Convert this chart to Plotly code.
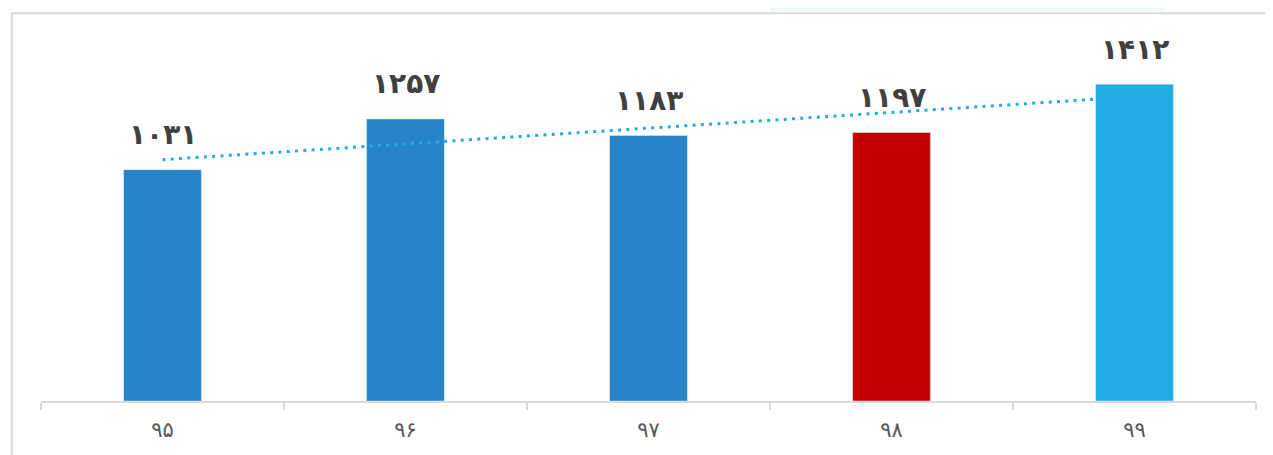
import numpy as np
import plotly.graph_objects as go

# ---- data ----
years = ["۹۵", "۹۶", "۹۷", "۹۸", "۹۹"]
values = [1031, 1257, 1183, 1197, 1412]
bar_colors = ["#2683C6", "#2683C6", "#2683C6", "#C00000", "#1EACE2"]

PERSIAN = str.maketrans("0123456789", "۰۱۲۳۴۵۶۷۸۹")
labels = [str(v).translate(PERSIAN) for v in values]

# linear trendline fitted to the data (Excel-style)
idx = np.arange(1, len(values) + 1)
slope, intercept = np.polyfit(idx, values, 1)
trend = (slope * idx + intercept).tolist()

YMAX = 1600
fig = go.Figure()

fig.add_trace(go.Bar(
    x=years[:4], y=values[:4], marker_color=bar_colors[:4],
    width=0.32, xaxis="x", yaxis="y", hoverinfo="x+y",
))
fig.add_trace(go.Scatter(
    x=years, y=trend, mode="lines",
    line=dict(color="#1EACE2", width=3, dash="3px,5.3px"),
    xaxis="x", yaxis="y", hoverinfo="skip",
))
# last bar on an overlay axis so it sits over the end of the trendline
fig.add_trace(go.Bar(
    x=years[4:], y=values[4:], marker_color=bar_colors[4:],
    width=0.32, xaxis="x", yaxis="y2", hoverinfo="x+y",
))

annotations = [
    dict(x=yr, y=v, xref="x", yref="y", text=t, showarrow=False,
         yshift=35, yanchor="middle",
         font=dict(family="DejaVu Sans", size=28, color="#404040", weight="bold"))
    for yr, v, t in zip(years, values, labels)
]

# the page body has an 8px margin: work in figure pixel coordinates
OFF = 8
W, H = 1273 - OFF, 455 - OFF
L, R, T, B = 41 - OFF, 17, 42 - OFF, 54
pw, ph = W - L - R, H - T - B

def px_x(p):
    return (p - OFF - L) / pw

def px_y(p):
    return (H - B - (p - OFF)) / ph

shapes = [
    # outer frame (top + left), partially cropped
    dict(type="line", xref="paper", yref="paper", x0=px_x(11.7), x1=px_x(1274),
         y0=px_y(13.3), y1=px_y(13.3), line=dict(color="#D9D9D9", width=2)),
    dict(type="line", xref="paper", yref="paper", x0=px_x(11.7), x1=px_x(11.7),
         y0=px_y(13.3), y1=px_y(456), line=dict(color="#D9D9D9", width=2)),
    # faint background artefact at top right
    dict(type="rect", xref="paper", yref="paper", x0=px_x(770), x1=px_x(1165),
         y0=px_y(8), y1=px_y(11), line=dict(width=0), fillcolor="#EEF8FB", layer="below"),
]

fig.update_layout(
    width=W, height=H,
    margin=dict(l=L, r=R, t=T, b=B),
    paper_bgcolor="white", plot_bgcolor="white",
    showlegend=False, barmode="overlay",
    annotations=annotations, shapes=shapes,
    xaxis=dict(
        type="category", categoryorder="array", categoryarray=years,
        showline=True, linecolor="#D9D9D9", linewidth=1.5,
        ticks="outside", tickson="boundaries", ticklen=7, tickcolor="#D9D9D9", tickwidth=1.5,
        tickfont=dict(family="DejaVu Sans", size=21, color="#595959"),
        showgrid=False, zeroline=False, fixedrange=True,
        ticklabelstandoff=9,
    ),
    yaxis=dict(range=[0, YMAX], visible=False, showgrid=False, zeroline=False, fixedrange=True),
    yaxis2=dict(range=[0, YMAX], overlaying="y", visible=False, showgrid=False,
                zeroline=False, fixedrange=True),
)

fig.write_html("out.html")
